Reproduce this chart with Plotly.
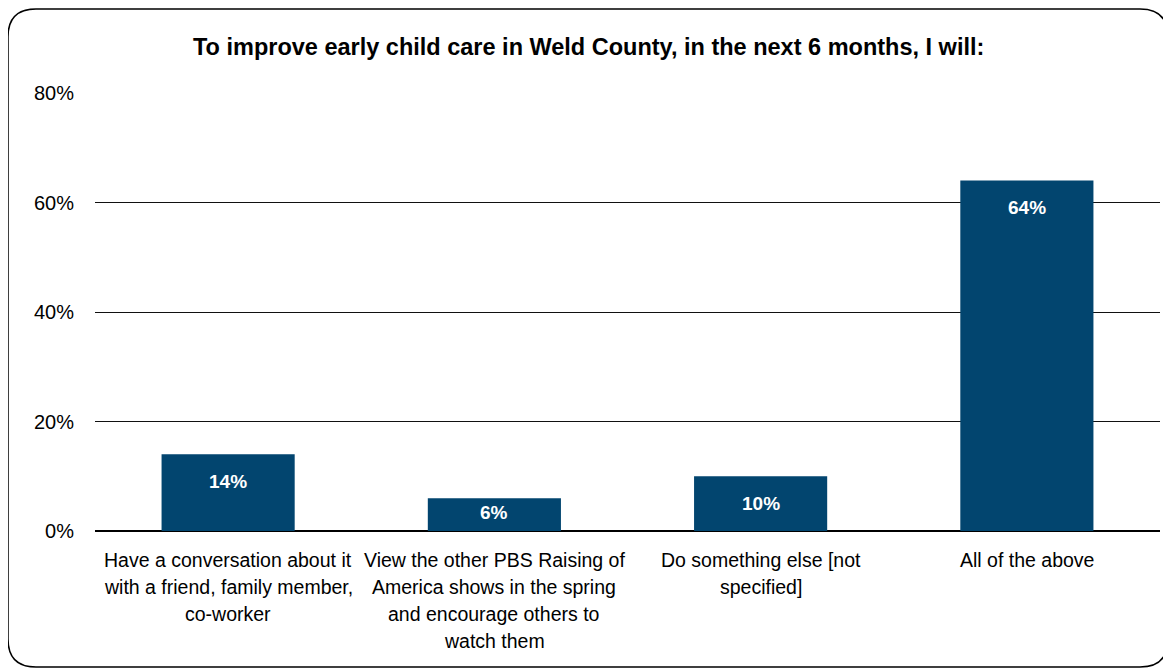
import plotly.graph_objects as go

categories = [
    "Have a conversation about it<br>with a friend, family member,<br>co-worker",
    "View the other PBS Raising of<br>America shows in the spring<br>and encourage others to<br>watch them",
    "Do something else [not<br>specified]",
    "All of the above",
]
values = [14, 6, 10, 64]
value_labels = ["14%", "6%", "10%", "64%"]
tick_vals = [0, 20, 40, 60, 80]
tick_text = ["0%", "20%", "40%", "60%", "80%"]
title_text = "To improve early child care in Weld County, in the next 6 months, I will:"

# page has an 8px body margin; figure coordinates = page - 8
W, H = 1163, 660
ML, MR, MT, MB = 87, 11, 85, 137
FONT = "Liberation Sans, Arial, sans-serif"
BAR = "#02456F"
YMAX = 80

pw = W - ML - MR
ph = H - MT - MB

fig = go.Figure()
fig.add_trace(go.Bar(
    x=list(range(len(categories))), y=values,
    marker=dict(color=BAR, line=dict(width=0)),
    width=0.5, hoverinfo="skip",
))

for i, (v, t) in enumerate(zip(values, value_labels)):
    bar_px = v * ph / YMAX
    off = min(27, bar_px - 19)
    fig.add_annotation(x=i, y=v, text=f"<b>{t}</b>", showarrow=False,
                       yanchor="middle", yshift=-off,
                       font=dict(family=FONT, size=19, color="white"))

# category labels, one annotation per line for exact line spacing
LINE = 27
for i, cat in enumerate(categories):
    for k, line in enumerate(cat.split("<br>")):
        fig.add_annotation(x=i, y=0, xref="x", yref="y", text=line,
                           showarrow=False, xanchor="center", yanchor="middle",
                           yshift=-(29 + k * LINE),
                           font=dict(family=FONT, size=19.5, color="black"))

def px(x):
    return (x - ML) / pw
def py(y):
    return (H - MB - y) / ph

x0, x1, y0, y1, r = 0, 1160, 1, 659, 28
path = (f"M {px(x0)},{py(y0 + r)} "
        f"Q {px(x0)},{py(y0)} {px(x0 + r)},{py(y0)} "
        f"L {px(x1 - r)},{py(y0)} "
        f"Q {px(x1)},{py(y0)} {px(x1)},{py(y0 + r)} "
        f"L {px(x1)},{py(y1 - r)} "
        f"Q {px(x1)},{py(y1)} {px(x1 - r)},{py(y1)} "
        f"L {px(x0 + r)},{py(y1)} "
        f"Q {px(x0)},{py(y1)} {px(x0)},{py(y1 - r)} Z")
fig.add_shape(type="path", path=path, xref="paper", yref="paper",
              line=dict(color="black", width=1.5), layer="above")

fig.add_annotation(x=px(580), y=py(39), xref="paper", yref="paper",
                   text=f"<b>{title_text}</b>", showarrow=False,
                   xanchor="center", yanchor="middle",
                   font=dict(family=FONT, size=23.5, color="black"))

fig.update_layout(
    width=W, height=H,
    margin=dict(l=ML, r=MR, t=MT, b=MB, pad=0),
    paper_bgcolor="white", plot_bgcolor="white",
    showlegend=False,
    font=dict(family=FONT, size=19.5, color="black"),
)
fig.update_xaxes(
    range=[-0.5, len(categories) - 0.5],
    showgrid=False, zeroline=False, showline=False, ticks="",
    showticklabels=False,
)
fig.update_yaxes(
    range=[0, YMAX], tickmode="array", tickvals=tick_vals, ticktext=tick_text,
    showgrid=True, gridcolor="#111111", gridwidth=1.3,
    zeroline=True, zerolinecolor="black", zerolinewidth=2.2,
    showline=False, ticks="", ticklabelstandoff=20,
    tickfont=dict(family=FONT, size=20, color="black"),
)

fig.write_html("out.html")
